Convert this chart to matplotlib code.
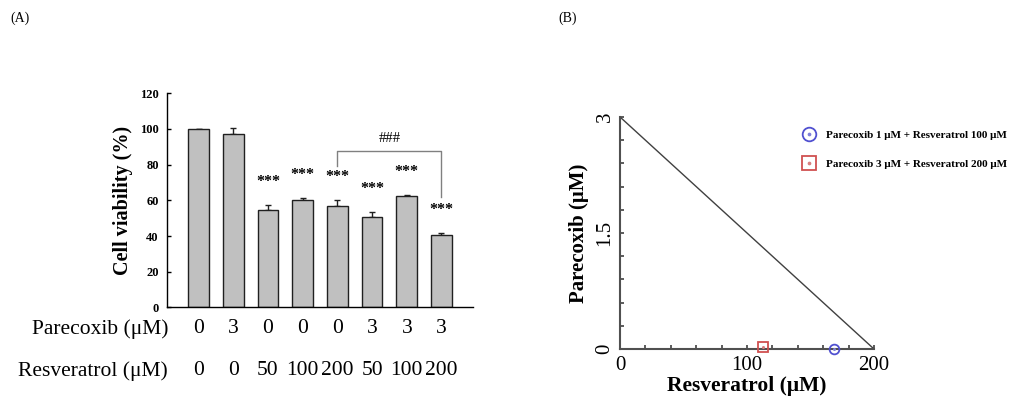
import matplotlib
matplotlib.use('Agg')
import matplotlib.pyplot as plt
import numpy as np

plt.rcParams['font.family'] = ['Liberation Serif', 'DejaVu Serif']

# panel A data
parecoxib = ['0', '3', '0', '0', '0', '3', '3', '3']
resveratrol = ['0', '0', '50', '100', '200', '50', '100', '200']
viability = [100, 97.2, 54.8, 60.0, 56.9, 50.6, 62.4, 40.7]
viab_err = [0, 3.0, 2.4, 1.0, 3.0, 2.7, 0.7, 0.7]
stars = ['', '', '***', '***', '***', '***', '***', '***']
a_yticks = [0, 20, 40, 60, 80, 100, 120]

# panel B data
iso_line_x = [0, 200]
iso_line_y = [3, 0]
pt_circle = (168.8, 0.0)
pt_square = (112.8, 0.02)
b_xticks = [0, 100, 200]
b_yticks = [0, 1.5, 3]
b_yticklabels = ['0', '1.5', '3']

fig = plt.figure(figsize=(10.21, 4.01), dpi=100)

# ---------------- panel A ----------------
ax = fig.add_axes([0.1636, 0.2332, 0.2997, 0.5348])
x = np.arange(len(viability))
ax.bar(x, viability, width=0.6, color='#c0c0c0', edgecolor='#202020', linewidth=1.0, zorder=2)
ax.errorbar(x, viability, yerr=[np.zeros(len(viab_err)), viab_err], fmt='none',
            ecolor='#202020', elinewidth=1.0, capsize=2.5, capthick=1.0, zorder=1)
for xi, v, e, s in zip(x, viability, viab_err, stars):
    if s:
        ax.text(xi, v + e + 8.5, s, ha='center', va='bottom', fontsize=11.5, fontweight='bold')

# ### bracket between bar 5 and bar 8
ax.plot([4, 4, 7, 7], [79, 87.3, 87.3, 62], color='#808080', linewidth=1.0)
ax.text(5.5, 91, '###', ha='center', va='bottom', fontsize=10.5)

ax.set_xlim(-0.91, 7.91)
ax.set_ylim(0, 120)
ax.set_yticks(a_yticks)
ax.set_yticklabels([str(t) for t in a_yticks], fontsize=9, fontweight='bold')
ax.tick_params(axis='y', direction='in', length=3, width=1, pad=6)
ax.set_xticks([])
ax.spines['top'].set_visible(False)
ax.spines['right'].set_visible(False)
ax.spines['left'].set_linewidth(1.0)
ax.spines['bottom'].set_linewidth(1.0)
ax.set_ylabel('Cell viability (%)', fontsize=14.5, fontweight='bold', labelpad=5)

# treatment rows under the bars
trans = ax.get_xaxis_transform()
for xi, p, r in zip(x, parecoxib, resveratrol):
    ax.text(xi, -0.10, p, transform=trans, ha='center', va='center', fontsize=15.5, clip_on=False)
    ax.text(xi, -0.295, r, transform=trans, ha='center', va='center', fontsize=15.5, clip_on=False)
ax.text(-0.88, -0.10, 'Parecoxib (\u03bcM)', transform=trans, ha='right', va='center', fontsize=15.5)
ax.text(-0.88, -0.295, 'Resveratrol (\u03bcM)', transform=trans, ha='right', va='center', fontsize=15.5)

fig.text(0.010, 0.955, '(A)', fontsize=10, ha='left', va='center')

# ---------------- panel B ----------------
bx = fig.add_axes([0.6073, 0.1297, 0.2487, 0.5785])
bx.plot(iso_line_x, iso_line_y, color='#404040', linewidth=1.0)
c_ring, = bx.plot(pt_circle[0], pt_circle[1], marker='o', markersize=7, markerfacecolor='none',
                  markeredgecolor='#5050d0', markeredgewidth=1.3, linestyle='none', clip_on=False, zorder=5)
s_ring, = bx.plot(pt_square[0], pt_square[1], marker='s', markersize=7, markerfacecolor='none',
                  markeredgecolor='#d05050', markeredgewidth=1.3, linestyle='none', clip_on=False, zorder=5)
c_dot, = bx.plot(pt_circle[0], pt_circle[1], marker='o', markersize=1.2, color='#8080d8',
                 linestyle='none', clip_on=False, zorder=6)
s_dot, = bx.plot(pt_square[0], pt_square[1], marker='o', markersize=1.2, color='#d88080',
                 linestyle='none', clip_on=False, zorder=6)
bx.set_xlim(0, 200)
bx.set_ylim(0, 3)
bx.set_xticks(b_xticks)
bx.set_xticklabels([str(t) for t in b_xticks], fontsize=15)
bx.set_xticks(np.arange(0, 201, 20), minor=True)
bx.set_yticks(b_yticks)
bx.set_yticklabels(b_yticklabels, fontsize=15, rotation=90, va='center')
bx.set_yticks(np.arange(0, 3.01, 0.3), minor=True)
bx.tick_params(axis='both', which='both', direction='in', length=3, width=1.2, color='#404040')
bx.tick_params(axis='x', pad=5)
bx.tick_params(axis='y', pad=4)
bx.spines['top'].set_visible(False)
bx.spines['right'].set_visible(False)
bx.spines['left'].set_color('#505050')
bx.spines['bottom'].set_color('#505050')
bx.spines['left'].set_linewidth(1.5)
bx.spines['bottom'].set_linewidth(1.5)
bx.set_xlabel('Resveratrol (\u03bcM)', fontsize=15.5, fontweight='bold', labelpad=1)
bx.set_ylabel('Parecoxib (\u03bcM)', fontsize=15, fontweight='bold', labelpad=5)
leg = bx.legend([(c_ring, c_dot), (s_ring, s_dot)],
                ['Parecoxib 1 \u03bcM + Resveratrol 100 \u03bcM',
                 'Parecoxib 3 \u03bcM + Resveratrol 200 \u03bcM'],
                loc='upper left', bbox_to_anchor=(0.68, 0.985), frameon=False, markerscale=1.4,
                prop={'size': 8, 'weight': 'bold'}, handletextpad=0.9, labelspacing=1.7,
                handlelength=1.2)

fig.text(0.547, 0.955, '(B)', fontsize=10, ha='left', va='center')

fig.savefig('out.png', dpi=100)
